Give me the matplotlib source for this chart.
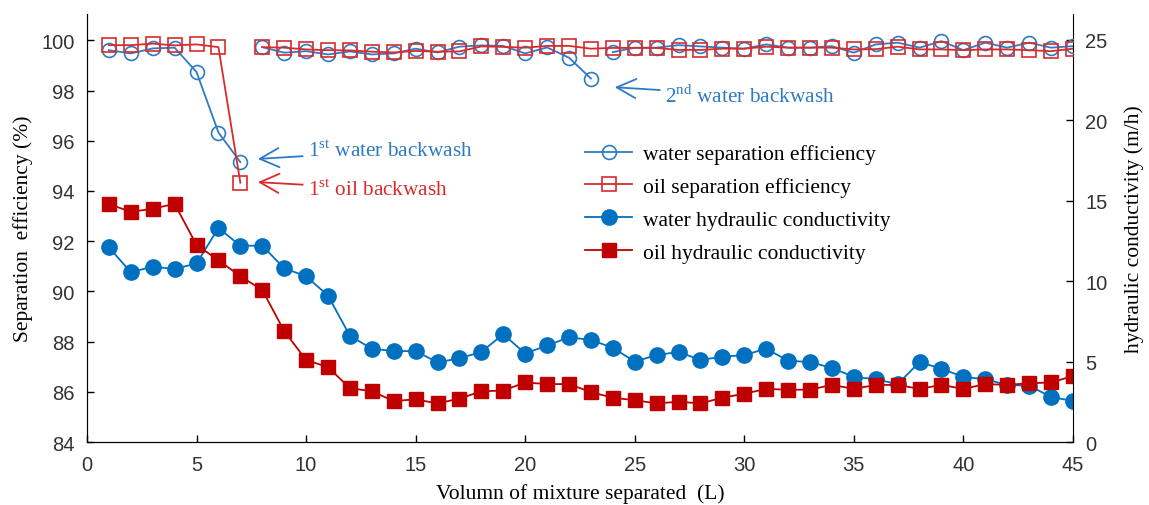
import matplotlib
matplotlib.use("Agg")
import matplotlib.pyplot as plt
import numpy as np

plt.rcParams['mathtext.fontset'] = 'custom'
plt.rcParams['mathtext.rm'] = 'Liberation Serif'

# data
volume = list(range(1, 46))

water_eff = [99.61, 99.48, 99.68, 99.71, 98.74, 96.33, 95.15,
             99.73, 99.51, 99.57, 99.44, 99.56, 99.44, 99.48, 99.67, 99.52,
             99.75, 99.80, 99.78, 99.48, 99.72, 99.31, 98.48,
             99.53, 99.71, 99.71, 99.81, 99.76, 99.71, 99.67, 99.84, 99.71,
             99.71, 99.77, 99.51, 99.84, 99.91, 99.71, 99.97, 99.61, 99.91,
             99.71, 99.91, 99.71, 99.77]
oil_eff = [99.81, 99.81, 99.87, 99.80, 99.84, 99.73, 94.33,
           99.73, 99.71, 99.64, 99.61, 99.60, 99.55, 99.52, 99.58, 99.55,
           99.56, 99.76, 99.74, 99.71, 99.78, 99.78, 99.67, 99.70, 99.70,
           99.70, 99.62, 99.62, 99.67, 99.67, 99.75, 99.71, 99.71, 99.71,
           99.64, 99.65, 99.75, 99.64, 99.64, 99.61, 99.64, 99.64, 99.61,
           99.57, 99.67]
water_hc = [12.1, 10.55, 10.9, 10.75, 11.1, 13.3, 12.2, 12.2, 10.8, 10.3,
            9.1, 6.6, 5.8, 5.65, 5.65, 4.95, 5.2, 5.6, 6.7, 5.5,
            6.0, 6.5, 6.35, 5.85, 5.0, 5.4, 5.6, 5.1, 5.3, 5.4,
            5.8, 5.05, 4.97, 4.6, 4.05, 3.9, 3.6, 4.97, 4.55, 4.05,
            3.9, 3.55, 3.5, 2.8, 2.55]
oil_hc = [14.8, 14.3, 14.5, 14.8, 12.25, 11.3, 10.3, 9.45, 6.9, 5.1,
          4.65, 3.35, 3.15, 2.55, 2.65, 2.4, 2.7, 3.15, 3.2, 3.7,
          3.6, 3.6, 3.1, 2.75, 2.6, 2.4, 2.5, 2.4, 2.75, 3.0,
          3.3, 3.25, 3.25, 3.55, 3.3, 3.55, 3.55, 3.3, 3.55, 3.3,
          3.6, 3.55, 3.65, 3.7, 4.1]

# backwash points: the efficiency curve restarts after these volumes
water_breaks = [7, 23]
oil_breaks = [7]

blue = '#2E7BC4'
blue_fill = '#0070C0'
red = '#D92B2B'
red_fill = '#C00000'


def segments(x, y, breaks):
    x = np.array(x)
    y = np.array(y)
    edges = [0] + [int(np.searchsorted(x, b, side='right')) for b in breaks] + [len(x)]
    for a, b in zip(edges[:-1], edges[1:]):
        yield x[a:b], y[a:b]


fig = plt.figure(figsize=(11.49, 5.06), dpi=100)
ax = fig.add_axes([0.0757, 0.1245, 0.8581, 0.8458])
ax2 = ax.twinx()

# hydraulic conductivity (right axis)
h1, = ax2.plot(volume, water_hc, '-o', color=blue_fill, lw=1.3, ms=11,
               label='water hydraulic conductivity')
h2, = ax2.plot(volume, oil_hc, '-s', color=red_fill, lw=1.3, ms=10,
               label='oil hydraulic conductivity')

# separation efficiency (left axis)
for xs, ys in segments(volume, water_eff, water_breaks):
    l1, = ax.plot(xs, ys, '-o', color=blue, lw=1.3, ms=10, mfc='none', mew=1.2,
                  label='water separation efficiency', zorder=3)
for xs, ys in segments(volume, oil_eff, oil_breaks):
    l2, = ax.plot(xs, ys, '-s', color=red, lw=1.3, ms=10, mfc='none', mew=1.2,
                  label='oil separation efficiency', zorder=3)

ax.set_zorder(ax2.get_zorder() + 1)
ax.patch.set_visible(False)

ax.set_xlim(0, 45)
ax.set_ylim(84, 101.05)
ax2.set_ylim(0, 26.6)
ax.set_xticks(range(0, 46, 5))
ax.set_yticks(range(84, 101, 2))
ax2.set_yticks(range(0, 26, 5))

for a in (ax, ax2):
    a.spines['top'].set_visible(False)
    a.tick_params(direction='in', length=5, labelsize=14.5, labelcolor='#333333',
                  width=1, pad=9)
    for lab in a.get_xticklabels() + a.get_yticklabels():
        lab.set_fontfamily('Liberation Sans')
ax.spines['right'].set_visible(False)

serif = 'Liberation Serif'
ax.set_xlabel('Volumn of mixture separated  (L)', fontsize=15.5, family=serif,
              labelpad=7)
ax.set_ylabel('Separation  efficiency (%)', fontsize=15.5, family=serif,
              labelpad=6)
ax2.set_ylabel('hydraulic conductivity (m/h)', fontsize=15.5, family=serif,
               labelpad=12)

# annotations
arrow = dict(arrowstyle='->,head_length=0.9,head_width=0.45', lw=1.3)
ax.annotate(r'1$^{\rm st}$ water backwash', xy=(7.67, 95.27), xytext=(10.1, 95.6),
            color=blue, fontsize=15.3, family=serif, va='center',
            arrowprops=dict(color=blue, **arrow))
ax.annotate(r'1$^{\rm st}$ oil backwash', xy=(7.67, 94.36), xytext=(10.1, 94.08),
            color=red, fontsize=15.3, family=serif, va='center',
            arrowprops=dict(color=red, **arrow))
ax.annotate(r'2$^{\rm nd}$ water backwash', xy=(23.96, 98.14), xytext=(26.4, 97.8),
            color=blue, fontsize=15.3, family=serif, va='center',
            arrowprops=dict(color=blue, **arrow))

leg = ax.legend([l1, l2, h1, h2],
                [l1.get_label(), l2.get_label(), h1.get_label(), h2.get_label()],
                loc='upper left', bbox_to_anchor=(0.505, 0.696), frameon=False,
                prop={'family': serif, 'size': 15.5}, handlelength=2.2,
                labelspacing=0.59, handletextpad=0.5, borderaxespad=0,
                borderpad=0)

plt.savefig('out.png', dpi=100)
